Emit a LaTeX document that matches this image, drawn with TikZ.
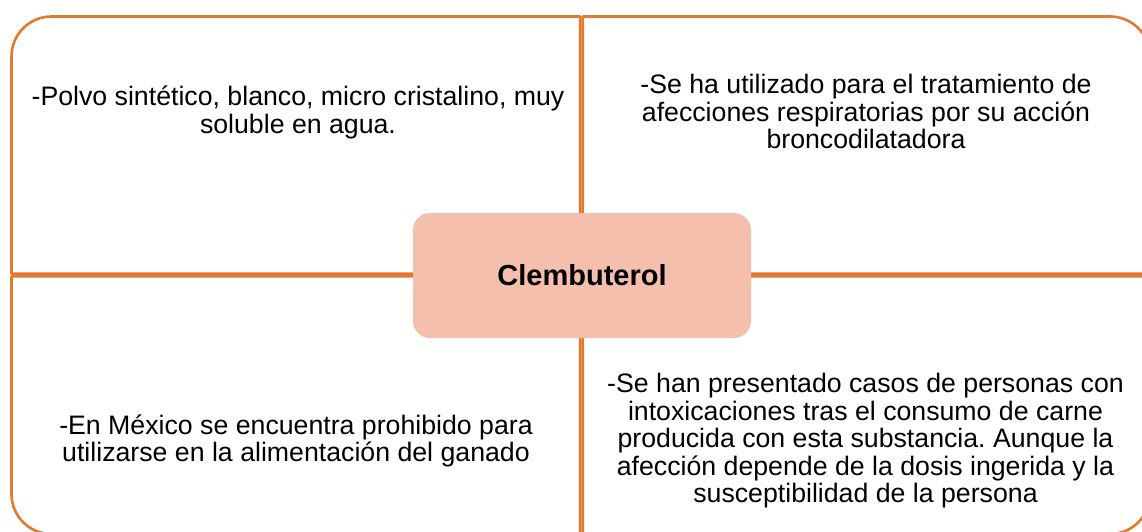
\documentclass[tikz,border=0pt]{standalone}
\usepackage{fontspec}
\setmainfont{Liberation Sans}
\definecolor{frameorange}{HTML}{E2792E}
\definecolor{hubfill}{HTML}{F4C0AD}
\frenchspacing

\begin{document}
\begin{tikzpicture}[
    x=1pt, y=1pt,
    quad/.style={draw=frameorange, line width=2.6pt, line join=round},
    hub/.style={rectangle, fill=hubfill, rounded corners=17pt, minimum width=338pt, minimum height=125pt, font=\fontsize{29}{30}\selectfont\bfseries},
    note/.style={align=center, inner sep=0pt, font=\fontsize{26.7}{27.5}\selectfont}
]
    \useasboundingbox (0,0) rectangle (1142,531);
    \clip (0,0) rectangle (1142,531);

    % four quadrants, each with one rounded outer corner
    \draw[quad] (580.2,257.3) -- (11.5,257.3) -- (11.5,474.5) arc[start angle=180, end angle=90, radius=40] -- (580.2,514.5) -- cycle;
    \draw[quad] (582.8,257.3) -- (582.8,514.5) -- (1110,514.5) arc[start angle=90, end angle=0, radius=40] -- (1150,257.3) -- cycle;
    \draw[quad] (580.2,254.7) -- (11.5,254.7) -- (11.5,37) arc[start angle=180, end angle=270, radius=40] -- (580.2,-3) -- cycle;
    \draw[quad] (582.8,254.7) -- (1150,254.7) -- (1150,37) arc[start angle=0, end angle=-90, radius=40] -- (582.8,-3) -- cycle;

    \node[hub] (clen) at (582,255.5) {Clembuterol};

    \node[note] (polvo) at (298,418.5) {-Polvo sintético, blanco, micro cristalino, muy\\ soluble en agua.};
    \node[note] (uso) at (866,419.3) {-Se ha utilizado para el tratamiento de\\ afecciones respiratorias por su acción\\ broncodilatadora};
    \node[note] (mexico) at (296,90) {-En México se encuentra prohibido para\\ utilizarse en la alimentación del ganado};
    \node[note] (casos) at (865.5,90) {-Se han presentado casos de personas con\\ intoxicaciones tras el consumo de carne\\ producida con esta substancia. Aunque la\\ afección depende de la dosis ingerida y la\\ susceptibilidad de la persona};
\end{tikzpicture}
\end{document}
